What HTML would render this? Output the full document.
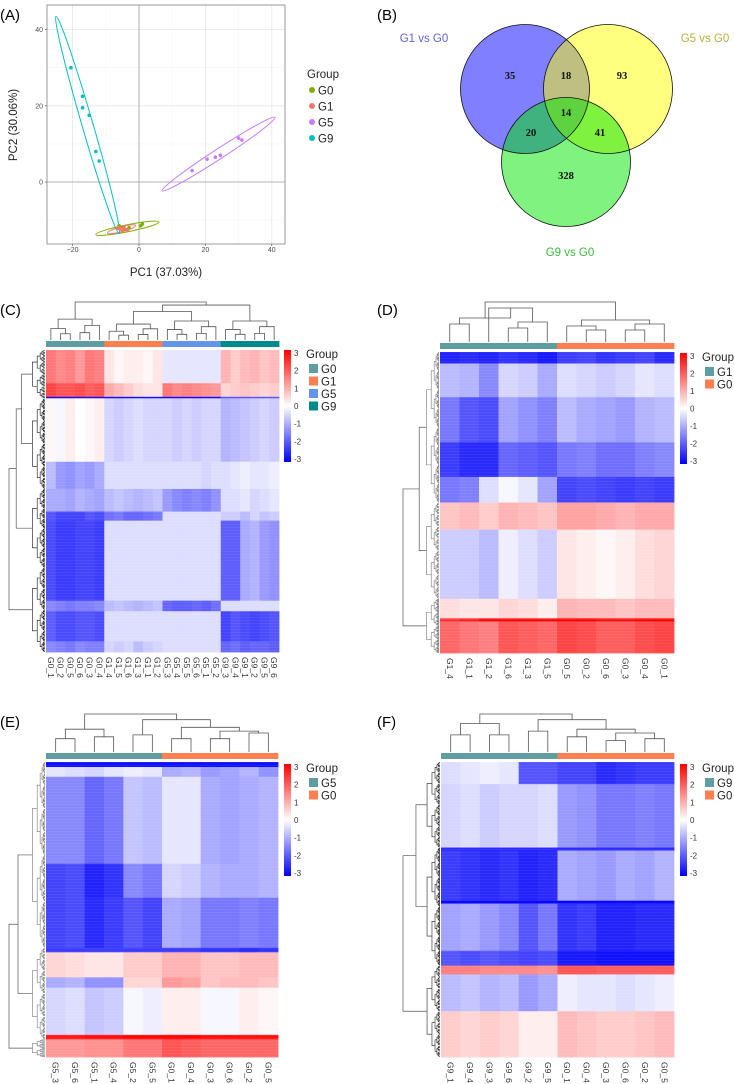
<!DOCTYPE html>
<html><head><meta charset="utf-8"><style>
html,body{margin:0;padding:0;background:#fff}
svg{display:block;font-family:"Liberation Sans",sans-serif}
</style></head><body>
<svg id="fig" width="734" height="1084" viewBox="0 0 734 1084" xmlns="http://www.w3.org/2000/svg">
<g id="pA"></g>
<g id="pB"></g>
<g id="pC"></g>
<g id="pD"></g>
<g id="pE"></g>
<g id="pF"></g>
</svg>
<script>
// ---------- PCA data ----------
const pcaGroups = ["G0","G1","G5","G9"];
const pcaColors = ["#7CAE00","#F8766D","#C77CFF","#00BFC4"];
const pcaX_G0 = [-6,-5,-4,1,0.5,-3];
const pcaY_G0 = [-11.5,-12,-12.5,-11,-11.5,-12];
const pcaX_G1 = [-6,-5.5,-4.5,-3.5,-5,-6.5];
const pcaY_G1 = [-12,-12.3,-12,-12.5,-12.8,-12.2];
const pcaX_G5 = [16,20.5,23,24.5,30,31];
const pcaY_G5 = [3,6,6.5,7,11.5,11];
const pcaX_G9 = [-20.5,-17,-17,-15,-13,-12];
const pcaY_G9 = [30,22.5,19.5,17.5,8,5.5];
// ellipse endpoints (data units) [x1,y1,x2,y2,minor half-width px]
const ellG0 = [-13,-13.8,6,-10.5,3.5];
const ellG1 = [-9.5,-13.4,-1,-11.4,2.5];
const ellG5 = [7,-2.3,41,17,5];
const ellG9 = [-25,43.5,-6,-13.5,5.5];
const pcaXTicks = [-20,0,20,40];
const pcaYTicks = [0,20,40];

// ---------- Venn data ----------
const vennSets = ["G1 vs G0","G5 vs G0","G9 vs G0"];
const vennCounts = [35,18,93,14,20,41,328];

// ---------- Heatmap C data ----------
const cCols = ["G0_1","G0_2","G0_5","G0_6","G0_3","G0_4","G1_4","G1_5","G1_6","G1_3","G1_1","G1_2","G5_3","G5_4","G5_5","G5_6","G5_1","G5_2","G9_3","G9_4","G9_1","G9_2","G9_5","G9_6"];
const cRowEnds = [0.11,0.155,0.16,0.37,0.46,0.535,0.565,0.83,0.865,0.965,1];
const cValues = [
 [1.6,1.4,1.5,1.2,1.6,1.5, 0.3,0.1,0.2,0.2,0.1,0.3, -0.3,-0.3,-0.3,-0.3,-0.3,-0.3, 0.9,0.6,0.8,0.9,0.7,0.8],
 [2.2,2.0,2.0,2.1,1.9,2.0, 1.0,0.8,0.6,0.4,0.3,0.3, 1.6,1.4,1.5,1.4,1.3,1.2, 0.5,0.6,0.7,0.6,0.5,0.6],
 [-2.8,-2.8,-2.8,-2.8,-2.8,-2.8,-2.8,-2.8,-2.8,-2.8,-2.8,-2.8,-2.8,-2.8,-2.8,-2.8,-2.8,-2.8,-2,-2,-2,-2,-2,-2],
 [0.1,-0.1,0.2,0,0.1,0.2, -0.5,-0.6,-0.5,-0.4,-0.5,-0.5, -0.5,-0.6,-0.5,-0.6,-0.5,-0.5, -0.9,-0.8,-0.7,-0.6,-0.5,-0.6],
 [-0.8,-1.2,-1.3,-1.1,-1.2,-1.0, -0.4,-0.4,-0.4,-0.4,-0.4,-0.4, -0.4,-0.4,-0.4,-0.4,-0.5,-0.4, -0.4,-0.3,-0.2,-0.3,-0.3,-0.2],
 [-1.0,-1.0,-1.1,-0.9,-1.0,-1.1, -0.8,-0.7,-0.8,-0.9,-0.8,-0.7, -1.2,-1.4,-1.5,-1.4,-1.5,-1.3, -0.4,-0.4,-0.3,-0.5,-0.4,-0.3],
 [-2.0,-2.2,-2.2,-2.2,-2.0,-2.1, -1.7,-1.6,-1.8,-1.8,-1.7,-1.6, -0.4,-0.4,-0.4,-0.4,-0.4,-0.4, -0.6,-0.6,-0.8,-0.5,-0.7,-0.6],
 [-2.1,-2.3,-2.3,-2.2,-2.2,-2.3, -0.4,-0.4,-0.4,-0.4,-0.4,-0.4, -0.4,-0.4,-0.4,-0.4,-0.4,-0.4, -1.9,-1.9,-1.0,-0.9,-1.2,-1.3],
 [-1.4,-1.5,-1.6,-1.5,-1.5,-1.4, -0.8,-0.7,-0.8,-0.9,-0.8,-0.7, -1.8,-1.9,-1.9,-1.8,-1.9,-1.7, -0.4,-0.4,-0.4,-0.4,-0.4,-0.4],
 [-1.9,-2.1,-2.1,-2.0,-2.0,-2.1, -0.4,-0.4,-0.4,-0.4,-0.4,-0.4, -0.4,-0.4,-0.4,-0.4,-0.4,-0.4, -2.2,-2.0,-2.1,-2.2,-2.1,-2.0],
 [-1.4,-1.5,-1.6,-1.4,-1.5,-1.5, -0.5,-0.6,-0.5,-0.8,-0.6,-0.5, -0.4,-0.4,-0.4,-0.4,-0.4,-0.4, -1.8,-1.7,-1.9,-1.8,-1.8,-1.9]
];
// ---------- Heatmap D data ----------
const dCols = ["G1_4","G1_1","G1_2","G1_6","G1_3","G1_5","G0_5","G0_2","G0_6","G0_3","G0_4","G0_1"];
const dRowEnds = [0.038,0.15,0.3,0.415,0.5,0.59,0.82,0.885,0.895,1];
const dValues = [
 [-2.6,-2.5,-2.6,-2.4,-2.5,-2.7,-2.3,-2.2,-2.4,-2.3,-2.2,-2.5],
 [-0.8,-0.9,-1.4,-0.5,-0.6,-1.0,-0.4,-0.5,-0.6,-0.5,-0.3,-0.4],
 [-1.6,-2.0,-2.1,-1.1,-1.3,-1.5,-0.8,-1.0,-1.1,-1.2,-0.9,-0.8],
 [-2.3,-2.5,-2.5,-1.8,-1.9,-2.0,-1.6,-1.5,-1.7,-1.7,-1.5,-1.4],
 [-1.6,-1.5,-0.4,-0.1,-0.3,-1.1,-2.2,-2.1,-2.2,-2.3,-2.2,-2.3],
 [0.7,0.8,0.6,0.9,0.8,0.7,1.1,1.1,1.0,0.9,1.0,1.0],
 [-0.6,-0.6,-0.8,-0.2,-0.4,-0.6,0.3,0.2,0.1,0.2,0.4,0.5],
 [0.4,0.3,0.3,0.5,0.4,0.2,0.9,0.8,0.8,0.7,0.8,0.8],
 [2.4,2.6,2.9,2.9,2.9,2.9,2.9,2.9,2.8,2.8,2.9,2.9],
 [1.8,1.6,1.5,2.0,1.9,1.8,2.2,2.1,1.9,1.9,2.1,2.2]
];
// ---------- Heatmap E data ----------
const eCols = ["G5_3","G5_6","G5_1","G5_4","G5_2","G5_5","G0_1","G0_4","G0_3","G0_6","G0_2","G0_5"];
const eRowEnds = [0.017,0.05,0.345,0.46,0.63,0.645,0.73,0.765,0.925,0.94,1];
const eValues = [
 [-2.8,-2.8,-2.8,-2.8,-2.8,-2.8,-2.8,-2.8,-2.8,-2.8,-2.8,-2.8],
 [-0.3,-0.4,-0.5,-0.3,-0.2,-0.3,-1.0,-0.9,-1.2,-1.1,-0.9,-1.3],
 [-1.4,-1.4,-1.8,-1.6,-0.7,-0.8,-0.3,-0.3,-1.0,-1.1,-1.0,-0.9],
 [-2.2,-2.1,-2.6,-2.4,-1.4,-1.6,-0.5,-0.6,-0.9,-1.0,-1.0,-0.9],
 [-2.2,-2.1,-2.5,-2.3,-2.0,-2.2,-1.0,-1.1,-1.6,-1.6,-1.5,-1.6],
 [-2.3,-2.3,-2.3,-2.3,-2.3,-2.3,-2.3,-2.3,-2.4,-2.4,-2.5,-2.4],
 [0.5,0.4,0.3,0.3,0.6,0.6,0.9,0.9,0.7,0.7,0.8,0.8],
 [-1.0,-0.9,-1.3,-1.3,0.5,0.5,1.2,1.1,0.7,0.8,0.8,0.7],
 [-0.5,-0.4,-0.7,-0.6,-0.1,-0.2,0.2,0.2,-0.1,-0.1,0.2,0.1],
 [2.7,2.7,2.8,2.8,2.9,2.9,2.9,2.9,2.8,2.8,2.8,2.8],
 [1.2,1.2,1.3,1.3,1.6,1.6,2.0,1.9,1.8,1.8,1.8,1.8]
];
// ---------- Heatmap F data ----------
const fCols = ["G9_1","G9_4","G9_3","G9_6","G9_2","G9_5","G0_1","G0_4","G0_3","G0_6","G0_2","G0_5"];
const fRowEnds = [0.075,0.29,0.3,0.47,0.48,0.64,0.69,0.72,0.845,1];
const fValues = [
 [-0.4,-0.3,-0.2,-0.3,-2.0,-2.0,-2.2,-2.2,-2.5,-2.4,-2.3,-2.3],
 [-0.5,-0.4,-0.6,-0.5,-0.5,-0.4,-1.2,-1.3,-1.6,-1.6,-1.5,-1.6],
 [-2.5,-2.5,-2.5,-2.5,-2.5,-2.5,-2.5,-2.5,-2.5,-2.5,-2.5,-2.5],
 [-2.3,-2.4,-2.5,-2.4,-2.6,-2.5,-1.0,-1.1,-1.2,-1.0,-1.1,-0.9],
 [-2.9,-2.9,-2.9,-2.9,-2.9,-2.9,-2.9,-2.9,-2.9,-2.9,-2.9,-2.9],
 [-1.1,-1.0,-1.2,-1.4,-2.0,-1.6,-2.4,-2.3,-2.6,-2.6,-2.5,-2.5],
 [-2.0,-2.1,-2.0,-2.1,-2.2,-2.1,-2.7,-2.7,-2.8,-2.8,-2.8,-2.8],
 [1.5,1.5,1.4,1.4,1.4,1.3,2.0,2.0,1.9,1.9,1.9,1.9],
 [-0.8,-0.7,-0.9,-0.8,-1.2,-1.0,-0.2,-0.3,-0.3,-0.4,-0.3,-0.2],
 [0.6,0.5,0.6,0.5,0.2,0.2,0.8,0.7,0.6,0.6,0.7,0.8]
];
const scaleTicks = [3,2,1,0,-1,-2,-3];

const NS="http://www.w3.org/2000/svg";
function el(parent,tag,attrs){const e=document.createElementNS(NS,tag);for(const k in attrs)e.setAttribute(k,attrs[k]);parent.appendChild(e);return e;}
function txt(parent,x,y,s,attrs){const t=el(parent,'text',Object.assign({x:x,y:y},attrs||{}));t.textContent=s;return t;}
function col(v){v=Math.max(-3,Math.min(3,v));const t=Math.abs(v)/3;const c=Math.round(255*(1-t));return v<0?`rgb(${c},${c},255)`:`rgb(255,${c},${c})`;}

// ================= PANEL A =================
(function(){
 const g=document.getElementById('pA');
 const L=47,R=285,T=5,B=244;
 const sx=v=>139+v*3.32, sy=v=>182-v*3.81;
 let t=txt(g,0,20,"(A)",{"font-size":15,fill:"#000"});
 
 const bg=el(g,'rect',{x:L,y:T,width:R-L,height:B-T,fill:"#fff"});
 
 [-10,10,30].forEach(v=>el(g,'line',{x1:sx(v),x2:sx(v),y1:T,y2:B,stroke:"#f4f4f4","stroke-width":0.6}));
 [-10,10,30].forEach(v=>el(g,'line',{x1:L,x2:R,y1:sy(v),y2:sy(v),stroke:"#f4f4f4","stroke-width":0.6}));
 pcaXTicks.forEach(v=>{el(g,'line',{x1:sx(v),x2:sx(v),y1:T,y2:B,stroke:"#e6e6e6","stroke-width":0.8});
   const l=txt(g,sx(v),252,String(v).replace('-','−'),{"font-size":7,fill:"#4d4d4d","text-anchor":"middle"});
   
   el(g,'line',{x1:sx(v),x2:sx(v),y1:B,y2:B+2,stroke:"#333","stroke-width":0.6});});
 pcaYTicks.forEach(v=>{el(g,'line',{x1:L,x2:R,y1:sy(v),y2:sy(v),stroke:"#e6e6e6","stroke-width":0.8});
   const l=txt(g,43,sy(v)+2.5,String(v),{"font-size":7,fill:"#4d4d4d","text-anchor":"end"});
   
   el(g,'line',{x1:L-2,x2:L,y1:sy(v),y2:sy(v),stroke:"#333","stroke-width":0.6});});
 el(g,'line',{x1:sx(0),x2:sx(0),y1:T,y2:B,stroke:"#a0a0a0","stroke-width":0.8});
 el(g,'line',{x1:L,x2:R,y1:sy(0),y2:sy(0),stroke:"#a0a0a0","stroke-width":0.8});
 const ells=[ellG0,ellG1,ellG5,ellG9];
 const xs=[pcaX_G0,pcaX_G1,pcaX_G5,pcaX_G9], ys=[pcaY_G0,pcaY_G1,pcaY_G5,pcaY_G9];
 ells.forEach((e,i)=>{const x1=sx(e[0]),y1=sy(e[1]),x2=sx(e[2]),y2=sy(e[3]);
   const cx=(x1+x2)/2,cy=(y1+y2)/2,rx=Math.hypot(x2-x1,y2-y1)/2,ang=Math.atan2(y2-y1,x2-x1)*180/Math.PI;
   const p=el(g,'ellipse',{cx:cx,cy:cy,rx:rx,ry:e[4],transform:`rotate(${ang} ${cx} ${cy})`,fill:"none",stroke:pcaColors[i],"stroke-width":1});
   });
 xs.forEach((arr,i)=>arr.forEach((v,j)=>{const c=el(g,'circle',{cx:sx(v),cy:sy(ys[i][j]),r:1.8,fill:pcaColors[i]});
   }));
 const border=el(g,'rect',{x:L,y:T,width:R-L,height:B-T,fill:"none",stroke:"#7f7f7f","stroke-width":0.8});
 
 t=txt(g,166,276,"PC1 (37.03%)",{"font-size":11.5,fill:"#222","text-anchor":"middle"});
 
 t=txt(g,0,0,"PC2 (30.06%)",{"font-size":11.5,fill:"#222","text-anchor":"middle",transform:"translate(17,125) rotate(-90)"});
 
 t=txt(g,307,78,"Group",{"font-size":11.5,fill:"#222"});
 
 pcaGroups.forEach((n,i)=>{const y=90+i*16;
   const c=el(g,'circle',{cx:312,cy:y,r:3,fill:pcaColors[i]});
   const l=txt(g,318,y+4.5,n,{"font-size":11.5,fill:"#222"});});
})();

// ================= PANEL B =================
(function(){
 const g=document.getElementById('pB');
 let t=txt(g,377,20,"(B)",{"font-size":15,fill:"#000"});
 
 const circ=[[525,89,"#0000ff"],[608,89,"#ffff00"],[566,162,"#00e600"]];
 circ.forEach((c,i)=>{const e=el(g,'circle',{cx:c[0],cy:c[1],r:64.5,fill:c[2],"fill-opacity":0.5});
   });
 circ.forEach(c=>el(g,'circle',{cx:c[0],cy:c[1],r:64.5,fill:"none",stroke:"#111","stroke-width":0.8}));
 const lab=[[424,42,"#6060e0"],[705,42,"#b8b040"],[570,256,"#3cb83c"]];
 vennSets.forEach((s,i)=>{const l=txt(g,lab[i][0],lab[i][1],s,{"font-size":11.5,fill:lab[i][2],"text-anchor":"middle"});
   });
 const pos=[[510,79],[566,79],[622,79],[566,116],[531,136],[600,136],[566,179]];
 vennCounts.forEach((v,i)=>{const l=txt(g,pos[i][0],pos[i][1],String(v),{"font-size":10.5,"font-weight":"bold","font-family":"Liberation Serif, serif",fill:"#111","text-anchor":"middle"});
   });
})();

// ================= HEATMAPS =================
function gtree(o,h){return [h,[h*0.55,o,[h*0.3,o+1,o+2]],[h*0.7,[h*0.35,o+3,o+4],o+5]];}
function heatmap(cfg){
 const g=document.getElementById(cfg.id);
 const {x0,x1,y0,y1}=cfg, n=cfg.cols.length, cw=(x1-x0)/n, H=y1-y0;
 let t=txt(g,cfg.lx,cfg.ly,cfg.label,{"font-size":15,fill:"#000"});
 
 // cells
 let prev=0;
 cfg.ends.forEach((e,r)=>{const ya=y0+prev*H, yb=y0+e*H;
   cfg.vals[r].forEach((v,c)=>{const rc=el(g,'rect',{x:x0+c*cw,y:ya,width:cw+0.4,height:yb-ya+0.4,fill:col(v)});
     });
   prev=e;});
 // faint row striping texture
 for(let y=y0;y<y1;y+=3){el(g,'rect',{x:x0,y:y,width:x1-x0,height:1,fill:"#fff","fill-opacity":0.06});}
 // annotation bar
 cfg.cols.forEach((c,i)=>{const gi=cfg.groups.indexOf(c.split('_')[0]);
   const r=el(g,'rect',{x:x0+i*cw,y:y0-9,width:cw+0.4,height:6,fill:cfg.gcolors[gi]});
   
   const l=txt(g,0,0,c,{"font-size":8.5,fill:"#333",transform:`translate(${x0+i*cw+cw/2-3},${y1+5}) rotate(90)`});
   });
 // column dendrogram
 const top=cfg.dTop, bot=y0-10, dh=bot-top;
 function draw(node){ if(typeof node==='number') return [x0+node*cw+cw/2, bot];
   const a=draw(node[1]), b=draw(node[2]), y=bot-node[0]*dh;
   const p=el(g,'path',{d:`M${a[0]},${a[1]}V${y}H${b[0]}V${b[1]}`,fill:"none",stroke:"#555","stroke-width":0.8});
   
   return [(a[0]+b[0])/2,y];}
 draw(cfg.tree);
 // row dendrogram
 const rx=x0-1, rw=x0-5-(cfg.rowLeft);
 function rdraw(ya,yb,h,depth){ if(depth===0||yb-ya<1.6) return [rx,(ya+yb)/2];
   const sp=cfg.rsplit[depth]!==undefined?cfg.rsplit[depth]:0.5;
   const m=ya+(yb-ya)*sp;
   const a=rdraw(ya,m,h*0.62,depth-1), b=rdraw(m,yb,h*0.62,depth-1), x=rx-h*rw;
   el(g,'path',{d:`M${a[0]},${a[1]}H${x}V${b[1]}H${b[0]}`,fill:"none",stroke:cfg.rcolor,"stroke-width":0.6});
   return [x,(a[1]+b[1])/2];}
 const rg=el(g,'g',{});
 const gg=g; 
 const sub=cfg.rtop; // top-level split fractions
 let yA=y0, parts=[];
 sub.forEach(f=>{parts.push([yA,y0+f*H]);yA=y0+f*H;});
 const ends=parts.map(p=>rdraw(p[0],p[1],0.35,7));
 // join parts progressively
 let cur=ends[0];
 for(let i=1;i<ends.length;i++){const x=rx-(cfg.rjoin[i-1])*rw;
   el(g,'path',{d:`M${cur[0]},${cur[1]}H${x}V${ends[i][1]}H${ends[i][0]}`,fill:"none",stroke:"#555","stroke-width":0.7});
   cur=[x,(cur[1]+ends[i][1])/2];}
 // colorbar
 const cb=cfg.cb, defs=el(g,'defs',{});
 const lg=el(defs,'linearGradient',{id:cfg.id+'grad',x1:0,y1:0,x2:0,y2:1});
 el(lg,'stop',{offset:0,"stop-color":"#ff0000"});el(lg,'stop',{offset:0.5,"stop-color":"#ffffff"});el(lg,'stop',{offset:1,"stop-color":"#0000ff"});
 const bar=el(g,'rect',{x:cb[0],y:cb[1],width:7,height:cb[2],fill:`url(#${cfg.id}grad)`});
 
 scaleTicks.forEach(v=>{const y=cb[1]+3+(3-v)/6*(cb[2]-6);
   const l=txt(g,cb[0]+10,y+3,String(v),{"font-size":8,fill:"#333"});});
 t=txt(g,cb[0]+22,cb[1]+8,"Group",{"font-size":11.5,fill:"#222"});
 
 cfg.groups.forEach((gname,i)=>{const y=cb[1]+14+i*12.5;
   const r=el(g,'rect',{x:cb[0]+25,y:y,width:9,height:9,fill:cfg.gcolors[i]});
   const l=txt(g,cb[0]+37,y+9,gname,{"font-size":11.5,fill:"#222"});});
}
const teal="#5F9EA0", coral="#FF7F50";
heatmap({id:'pC',label:'(C)',lx:0,ly:315,x0:46,x1:279,y0:350,y1:652,dTop:302,cols:cCols,ends:cRowEnds,vals:cValues,
 groups:["G0","G1","G5","G9"],gcolors:[teal,coral,"#6495ED","#008B8B"],
 tree:[1,gtree(0,0.55),[0.92,[0.75,gtree(6,0.42),gtree(12,0.5)],gtree(18,0.5)]],
 cb:[284,350,112],rowLeft:5,rcolor:"#111",rtop:[0.16,0.46,0.72,1],rjoin:[0.65,0.8,1],rsplit:{}});
heatmap({id:'pD',label:'(D)',lx:377,ly:315,x0:440,x1:674,y0:352,y1:653,dTop:302,cols:dCols,ends:dRowEnds,vals:dValues,
 groups:["G1","G0"],gcolors:[teal,coral],
 tree:[1,[0.6,[0.45,0,1],[0.85,2,[0.5,[0.35,3,4],5]]],[0.55,[0.4,6,[0.3,7,8]],[0.45,[0.3,9,10],11]]],
 cb:[680,353,111],rowLeft:399,rcolor:"#777",rtop:[0.5,0.82,1],rjoin:[0.55,1],rsplit:{}});
heatmap({id:'pE',label:'(E)',lx:0,ly:727,x0:46,x1:278,y0:762,y1:1057,dTop:714,cols:eCols,ends:eRowEnds,vals:eValues,
 groups:["G5","G0"],gcolors:[teal,coral],
 tree:[1,[0.6,[0.35,0,1],[0.4,2,3]],[0.85,[0.45,4,5],[0.65,[0.35,6,7],[0.55,[0.35,8,9],[0.5,10,11]]]]],
 cb:[284,764,112],rowLeft:5,rcolor:"#777",rtop:[0.63,0.94,1],rjoin:[0.75,1],rsplit:{}});
heatmap({id:'pF',label:'(F)',lx:377,ly:727,x0:441,x1:674,y0:762,y1:1057,dTop:714,cols:fCols,ends:fRowEnds,vals:fValues,
 groups:["G9","G0"],gcolors:[teal,coral],
 tree:[1,[0.75,[0.45,0,1],[0.45,2,3]],[0.85,[0.55,4,5],[0.6,[0.4,6,7],[0.5,[0.3,8,9],[0.35,10,11]]]]],
 cb:[680,764,112],rowLeft:399,rcolor:"#222",rtop:[0.29,0.69,1],rjoin:[0.65,1],rsplit:{}});
</script>
</body></html>
